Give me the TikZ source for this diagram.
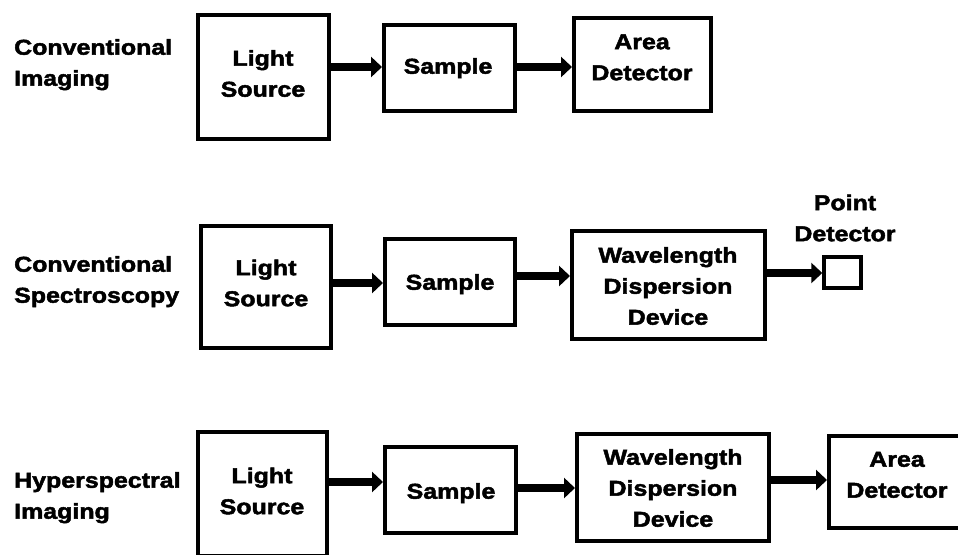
\documentclass[tikz,border=0pt]{standalone}
\usepackage{fontspec}
\newfontfamily\diafont[FakeStretch=1.16,FakeBold=2.2]{Liberation Sans Bold}
\usetikzlibrary{arrows.meta}
\newcommand\lstrut{\rule[-7.8pt]{0pt}{31pt}}
\tikzset{
  box/.style={draw=black, line width=4pt, rectangle, inner sep=0pt, fill=white},
  txt/.style={font=\diafont\fontsize{21.5}{31}\selectfont, align=center, inner sep=0pt},
  lbl/.style={font=\diafont\fontsize{21.5}{31}\selectfont, align=left, inner sep=0pt, anchor=west},
  arr/.style={line width=8pt, -{Triangle[length=11pt,width=20pt]}},
}
\begin{document}
\begin{tikzpicture}[x=1pt,y=-1pt]
\useasboundingbox (0,0) rectangle (958,554);
\begin{scope}
\clip (0,0) rectangle (958,554);
% row 1
\node[box, minimum width=131pt, minimum height=124pt] (ls1) at (263.5,77) {};
\node[box, minimum width=131pt, minimum height=86pt] (sa1) at (449.5,68) {};
\node[box, minimum width=137pt, minimum height=93pt] (ad1) at (642.5,64.5) {};
% row 2
\node[box, minimum width=130pt, minimum height=122pt] (ls2) at (266,287) {};
\node[box, minimum width=130pt, minimum height=86pt] (sa2) at (450,282) {};
\node[box, minimum width=193pt, minimum height=108pt] (wd2) at (668.5,285) {};
\node[box, line width=3.5pt, minimum width=37pt, minimum height=31pt] (pd2) at (842.5,272.5) {};
% row 3
\node[box, minimum width=129pt, minimum height=124pt] (ls3) at (262.5,494) {};
\node[box, minimum width=131pt, minimum height=86pt] (sa3) at (450.5,490) {};
\node[box, minimum width=192pt, minimum height=107pt] (wd3) at (673,487.5) {};
\node[box, minimum width=139pt, minimum height=92pt] (ad3) at (898.5,482) {};
\end{scope}
% texts
\node[txt] (tls1) at (263,73.5) {Light\lstrut\\Source\lstrut};
\node[txt] (tsa1) at (448,66) {Sample\lstrut};
\node[txt] (tad1) at (642,57) {Area\lstrut\\Detector\lstrut};
\node[txt] (tls2) at (266,283) {Light\lstrut\\Source\lstrut};
\node[txt] (tsa2) at (450,282) {Sample\lstrut};
\node[txt] (twd2) at (668,286) {Wavelength\lstrut\\Dispersion\lstrut\\Device\lstrut};
\node[txt] (tpd2) at (845,218) {Point\lstrut\\Detector\lstrut};
\node[txt] (tls3) at (262,491) {Light\lstrut\\Source\lstrut};
\node[txt] (tsa3) at (451,491) {Sample\lstrut};
\node[txt] (twd3) at (673,488) {Wavelength\lstrut\\Dispersion\lstrut\\Device\lstrut};
\node[txt] (tad3) at (897,474.5) {Area\lstrut\\Detector\lstrut};
% labels
\node[lbl] (r1) at (14,62.5) {Conventional\lstrut\\Imaging\lstrut};
\node[lbl] (r2) at (14,279.5) {Conventional\lstrut\\Spectroscopy\lstrut};
\node[lbl] (r3) at (14,495.5) {Hyperspectral\lstrut\\Imaging\lstrut};
% arrows
\draw[arr] (ls1.east |- 0,67) -- (sa1.west |- 0,67);
\draw[arr] (sa1.east |- 0,67) -- (ad1.west |- 0,67);
\draw[arr] (ls2.east |- 0,283) -- (sa2.west |- 0,283);
\draw[arr] (sa2.east |- 0,276) -- (wd2.west |- 0,276);
\draw[arr] (wd2.east |- 0,273) -- (pd2.west |- 0,273);
\draw[arr] (ls3.east |- 0,482) -- (sa3.west |- 0,482);
\draw[arr] (sa3.east |- 0,488) -- (wd3.west |- 0,488);
\draw[arr] (wd3.east |- 0,480) -- (ad3.west |- 0,480);
\end{tikzpicture}
\end{document}
